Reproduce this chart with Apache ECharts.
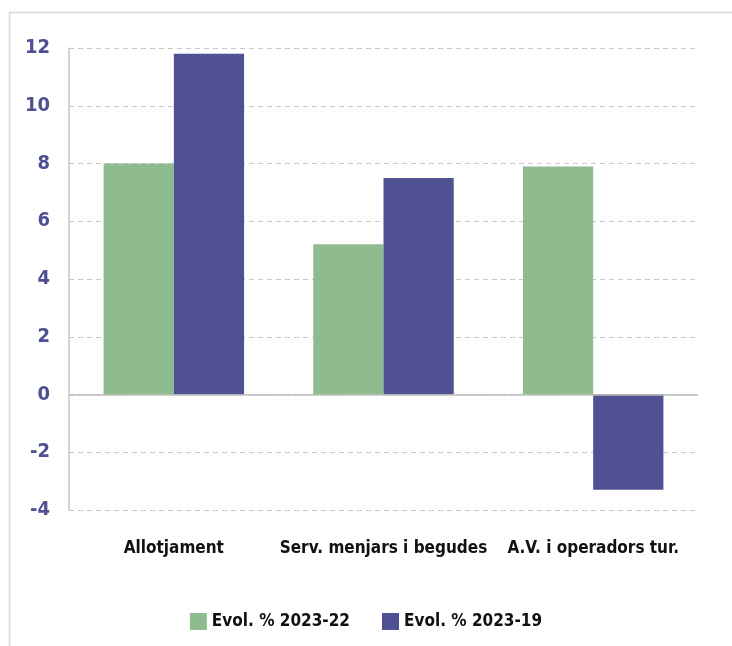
<!DOCTYPE html>
<html>
<head>
<meta charset="utf-8">
<script src="https://cdn.jsdelivr.net/npm/echarts@6/dist/echarts.min.js"></script>
<style>
  html, body { margin: 0; padding: 0; background: #fff; }
  #chart-container { width: 732px; height: 646px; }
</style>
</head>
<body>
<div id="chart-container"></div>
<script>
var categories = ['Allotjament', 'Serv. menjars i begudes', 'A.V. i operadors tur.'];
var seriesNames = ['Evol. % 2023-22', 'Evol. % 2023-19'];
var evol2322 = [8.0, 5.2, 7.9];
var evol2319 = [11.8, 7.5, -3.3];

var font = '"Liberation Sans Narrow", "DejaVu Sans Condensed", sans-serif';

var dom = document.getElementById('chart-container');
var myChart = echarts.init(dom, null, { renderer: 'canvas' });

var option = {
    animation: false,
    graphic: [{
        type: 'rect',
        shape: { x: 9.5, y: 12.5, width: 900, height: 900 },
        style: { fill: 'none', stroke: '#dadada', lineWidth: 1.5 },
        silent: true
    }],
    grid: { left: 69, right: 34, top: 48, bottom: 136 },
    legend: {
        top: 608,
        left: 'center',
        itemWidth: 17,
        itemHeight: 17,
        itemGap: 32,
        icon: 'rect',
        textStyle: { fontFamily: font, fontWeight: 'bold', fontSize: 17, color: '#111' },
        data: seriesNames
    },
    xAxis: {
        type: 'category',
        data: categories,
        axisLine: { show: false, onZero: false },
        axisTick: { show: false },
        axisLabel: {
            interval: 0,
            margin: 30,
            fontFamily: font, fontWeight: 'bold', fontSize: 17, color: '#111'
        }
    },
    yAxis: {
        type: 'value',
        min: -4, max: 12, interval: 2,
        axisLine: { show: true, lineStyle: { color: '#c4c4c4', width: 1.5 } },
        axisTick: { show: false },
        axisLabel: {
            margin: 19,
            fontFamily: font, fontWeight: 'bold', fontSize: 20, color: '#4f4f93'
        },
        splitLine: { lineStyle: { type: [5, 4], color: '#c8c8c8', width: 1.2 } }
    },
    series: [{
        name: seriesNames[0],
        type: 'bar',
        data: evol2322,
        barGap: '0%',
        barCategoryGap: '33%',
        itemStyle: { color: '#8fbc8f' },
        markLine: {
            silent: true,
            symbol: 'none',
            label: { show: false },
            lineStyle: { type: 'solid', color: '#bdbdbd', width: 1.5 },
            data: [{ yAxis: 0 }]
        }
    }, {
        name: seriesNames[1],
        type: 'bar',
        data: evol2319,
        itemStyle: { color: '#4f5192' }
    }]
};

myChart.setOption(option);
window.addEventListener('resize', myChart.resize);
</script>
</body>
</html>
